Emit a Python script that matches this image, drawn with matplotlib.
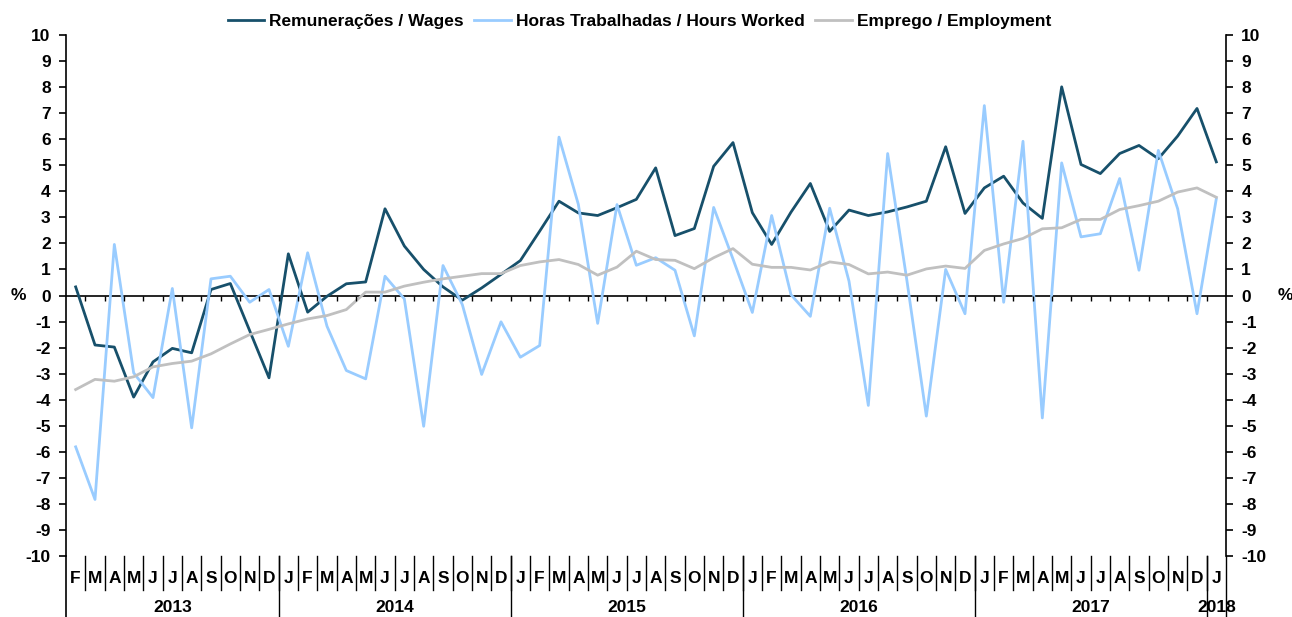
import matplotlib
matplotlib.use("Agg")
import matplotlib.pyplot as plt
import matplotlib.transforms as mtransforms

# monthly y-o-y change, Feb 2013 .. Jan 2018
months = list("FMAMJJASOND") + list("JFMAMJJASOND") * 4 + ["J"]
years = ["2013", "2014", "2015", "2016", "2017", "2018"]
year_counts = [11, 12, 12, 12, 12, 1]

wages = [0.33, -1.9, -1.98, -3.9, -2.55, -2.03, -2.2, 0.23, 0.46, -1.35, -3.16,
         1.6, -0.64, -0.03, 0.45, 0.52, 3.33, 1.9, 1.0, 0.33, -0.18, 0.29, 0.81,
         1.34, 2.47, 3.62, 3.17, 3.07, 3.37, 3.69, 4.9, 2.3, 2.57, 4.96, 5.87,
         3.18, 1.96, 3.2, 4.3, 2.46, 3.28, 3.07, 3.21, 3.4, 3.62, 5.71, 3.15,
         4.13, 4.58, 3.55, 2.96, 8.01, 5.03, 4.68, 5.45, 5.76, 5.25, 6.12, 7.18,
         5.13]
hours = [-5.81, -7.83, 1.96, -2.97, -3.92, 0.27, -5.08, 0.64, 0.74, -0.26, 0.23,
         -1.95, 1.64, -1.18, -2.88, -3.2, 0.74, -0.13, -5.02, 1.15, -0.35, -3.03, -1.01,
         -2.37, -1.92, 6.08, 3.5, -1.07, 3.49, 1.16, 1.45, 0.97, -1.55, 3.38, 1.4,
         -0.65, 3.07, 0.03, -0.8, 3.35, 0.55, -4.22, 5.45, 0.55, -4.63, 1.0, -0.7,
         7.29, -0.26, 5.92, -4.7, 5.09, 2.25, 2.37, 4.49, 0.97, 5.57, 3.33, -0.7,
         3.72]
employment = [-3.61, -3.22, -3.29, -3.12, -2.74, -2.61, -2.52, -2.24, -1.86, -1.5, -1.3,
              -1.09, -0.9, -0.77, -0.54, 0.13, 0.13, 0.36, 0.51, 0.64, 0.74, 0.84, 0.84,
              1.15, 1.29, 1.38, 1.19, 0.78, 1.09, 1.7, 1.38, 1.35, 1.03, 1.45, 1.8,
              1.2, 1.08, 1.08, 0.98, 1.29, 1.19, 0.83, 0.9, 0.78, 1.02, 1.13, 1.04,
              1.73, 1.98, 2.19, 2.56, 2.6, 2.92, 2.92, 3.3, 3.45, 3.62, 3.97, 4.13,
              3.77]

plt.rcParams['font.family'] = ['Liberation Sans', 'DejaVu Sans']
plt.rcParams['font.weight'] = 'bold'
plt.rcParams['axes.unicode_minus'] = False

W, H = 1292, 617
fig = plt.figure(figsize=(W / 100, H / 100), dpi=100)
fig.subplots_adjust(left=66 / W, right=1226 / W, top=1 - 35 / H, bottom=1 - 556 / H)
ax = fig.add_subplot(111)

x = list(range(len(months)))
ax.plot(x, wages, color="#17506b", lw=2.0, label="Remunerações / Wages")
ax.plot(x, hours, color="#99ccff", lw=2.0, label="Horas Trabalhadas / Hours Worked")
ax.plot(x, employment, color="#c0c0c0", lw=2.0, label="Emprego / Employment")

ax.set_xlim(-0.5, len(months) - 0.5)
ax.set_ylim(-10, 10)
ax.set_yticks(range(-10, 11))
ax.tick_params(axis="y", labelsize=12.5, length=5, width=1.2, pad=6,
               left=True, right=True, labelleft=True, labelright=True)
ax.set_xticks([])
for s in ["top", "bottom"]:
    ax.spines[s].set_visible(False)
for s in ["left", "right"]:
    ax.spines[s].set_linewidth(1.2)

# zero line with small category ticks
ax.axhline(0, color="black", lw=1.2, zorder=1)
bounds = [i + 0.5 for i in range(len(months) - 1)]
ax.vlines(bounds, -0.2, 0, color="black", lw=1.0)

# category axis under the plot
trans = mtransforms.blended_transform_factory(ax.transData, ax.transAxes)
for i, m in enumerate(months):
    ax.text(i, -0.044, m, transform=trans, ha="center", va="center", fontsize=12.5)
for b in bounds:
    ax.plot([b, b], [0, -0.065], transform=trans, color="black", lw=1.0, clip_on=False)

start = 0
for yr, n in zip(years, year_counts):
    ax.text(start + (n - 1) / 2, -0.099, yr, transform=trans, ha="center", va="center",
            fontsize=12.5)
    start += n
    ax.plot([start - 0.5, start - 0.5], [0, -0.12], transform=trans, color="black",
            lw=1.0, clip_on=False)
ax.plot([-0.5, -0.5], [0, -0.12], transform=trans, color="black", lw=1.2, clip_on=False)

ax.text(-0.041, 0.5, "%", transform=ax.transAxes, ha="center", va="center", fontsize=12.5)
ax.text(1.051, 0.5, "%", transform=ax.transAxes, ha="center", va="center", fontsize=12.5)

fig.legend(loc="upper center", bbox_to_anchor=(0.495, 1.003), ncol=3, frameon=False,
           fontsize=12.5, handlelength=2.1, columnspacing=0.6, handletextpad=0.3)

fig.savefig("out.png", dpi=100)
